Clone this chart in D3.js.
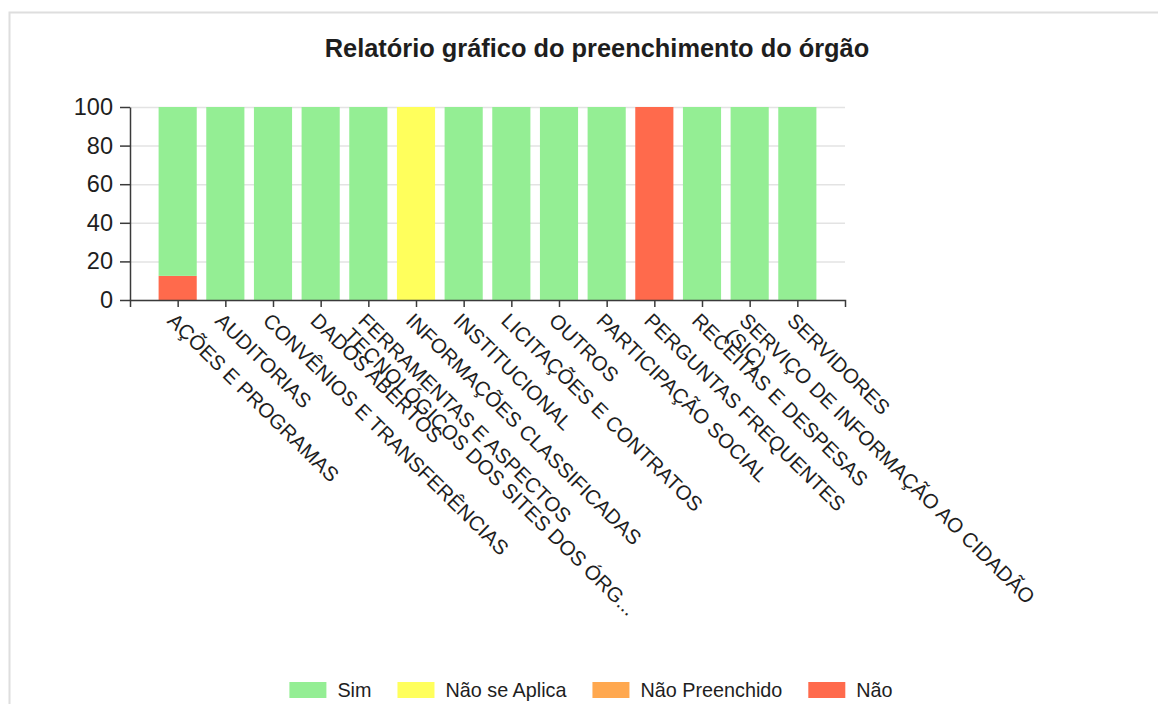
<!DOCTYPE html>
<html>
<head>
<meta charset="utf-8">
<title>Relatório gráfico do preenchimento do órgão</title>
<script src="https://cdn.jsdelivr.net/npm/d3@7"></script>
<style>
    html, body { margin: 0; padding: 0; background: #fff; }
    #chart-container { width: 1158px; height: 704px; }
    text { font-family: "Liberation Sans", Arial, sans-serif; fill: #1e1e1e; }
    .grid line { stroke: #e3e3e3; stroke-width: 1.5; }
    .grid path { display: none; }
    .axis path, .axis line { stroke: #3a3a3a; stroke-width: 1.5; }
</style>
</head>
<body>
<div id="chart-container"></div>
<script>
// categories (x axis), with the wrapped lines shown under each tick
const categories = [
    "AÇÕES E PROGRAMAS",
    "AUDITORIAS",
    "CONVÊNIOS E TRANSFERÊNCIAS",
    "DADOS ABERTOS",
    "FERRAMENTAS E ASPECTOS TECNOLÓGICOS DOS SITES DOS ÓRGÃOS",
    "INFORMAÇÕES CLASSIFICADAS",
    "INSTITUCIONAL",
    "LICITAÇÕES E CONTRATOS",
    "OUTROS",
    "PARTICIPAÇÃO SOCIAL",
    "PERGUNTAS FREQUENTES",
    "RECEITAS E DESPESAS",
    "SERVIÇO DE INFORMAÇÃO AO CIDADÃO (SIC)",
    "SERVIDORES"
];
const tickLabels = [
    ["AÇÕES E PROGRAMAS"],
    ["AUDITORIAS"],
    ["CONVÊNIOS E TRANSFERÊNCIAS"],
    ["DADOS ABERTOS"],
    ["FERRAMENTAS E ASPECTOS", "TECNOLÓGICOS DOS SITES DOS ÓRG..."],
    ["INFORMAÇÕES CLASSIFICADAS"],
    ["INSTITUCIONAL"],
    ["LICITAÇÕES E CONTRATOS"],
    ["OUTROS"],
    ["PARTICIPAÇÃO SOCIAL"],
    ["PERGUNTAS FREQUENTES"],
    ["RECEITAS E DESPESAS"],
    ["SERVIÇO DE INFORMAÇÃO AO CIDADÃO", "(SIC)"],
    ["SERVIDORES"]
];

// series values (%)
const sim           = [87.5, 100, 100, 100, 100,   0, 100, 100, 100, 100,   0, 100, 100, 100];
const naoSeAplica   = [   0,   0,   0,   0,   0, 100,   0,   0,   0,   0,   0,   0,   0,   0];
const naoPreenchido = [   0,   0,   0,   0,   0,   0,   0,   0,   0,   0,   0,   0,   0,   0];
const nao           = [12.5,   0,   0,   0,   0,   0,   0,   0,   0,   0, 100,   0,   0,   0];

const seriesNames  = ["Sim", "Não se Aplica", "Não Preenchido", "Não"];
const seriesColors = ["#94ee94", "#ffff5c", "#ffa84f", "#ff6a4c"];
const yTicks = [0, 20, 40, 60, 80, 100];

function renderChart() {
    d3.select("#chart-container svg").remove();

    const container = d3.select("#chart-container");
    const containerWidth = 1158;
    const containerHeight = 704;

    // plot area
    const margin = { top: 107, right: 313, bottom: 404, left: 130 };
    const width = containerWidth - margin.left - margin.right;
    const height = containerHeight - margin.top - margin.bottom;

    const root = container.append("svg")
        .attr("width", containerWidth)
        .attr("height", containerHeight);

    // light frame around the chart box
    root.append("rect")
        .attr("x", 9.5)
        .attr("y", 12.5)
        .attr("width", 1300)
        .attr("height", 900)
        .attr("fill", "none")
        .attr("stroke", "#dedede")
        .attr("stroke-width", 2);

    // title
    root.append("text")
        .attr("x", 597)
        .attr("y", 57)
        .attr("text-anchor", "middle")
        .style("font-size", "25.4px")
        .style("font-weight", "bold")
        .text("Relatório gráfico do preenchimento do órgão");

    const svg = root.append("g")
        .attr("transform", `translate(${margin.left},${margin.top})`);

    const x = d3.scalePoint()
        .domain(categories)
        .range([0, width])
        .padding(1);

    const y = d3.scaleLinear()
        .domain([0, 100])
        .range([height, 0]);

    // horizontal gridlines
    svg.append("g")
        .attr("class", "grid")
        .call(d3.axisLeft(y)
            .tickValues(yTicks)
            .tickSize(-width)
            .tickFormat("")
        );

    // stacked bars, "Não" at the bottom
    const rows = categories.map((c, i) => ({
        cat: c,
        "Sim": sim[i],
        "Não se Aplica": naoSeAplica[i],
        "Não Preenchido": naoPreenchido[i],
        "Não": nao[i]
    }));
    const stackKeys = ["Não", "Não Preenchido", "Não se Aplica", "Sim"];
    const color = d3.scaleOrdinal().domain(seriesNames).range(seriesColors);
    const stacked = d3.stack().keys(stackKeys)(rows);
    const barWidth = x.step() * 0.8;

    svg.append("g")
        .selectAll("g")
        .data(stacked)
        .join("g")
        .attr("fill", s => color(s.key))
        .selectAll("rect")
        .data(s => s.filter(d => d[1] - d[0] > 0))
        .join("rect")
        .attr("x", d => x(d.data.cat) - barWidth / 2)
        .attr("y", d => y(d[1]))
        .attr("width", barWidth)
        .attr("height", d => y(d[0]) - y(d[1]));

    // y axis
    const yAxis = svg.append("g")
        .attr("class", "axis")
        .call(d3.axisLeft(y)
            .tickValues(yTicks)
            .tickSize(10)
            .tickSizeOuter(0)
            .tickPadding(7)
        );
    yAxis.selectAll("text")
        .style("font-size", "23.5px")
        .attr("fill", "#1e1e1e");

    // x axis
    const xAxis = svg.append("g")
        .attr("class", "axis")
        .attr("transform", `translate(0,${height})`)
        .call(d3.axisBottom(x)
            .tickSize(7)
            .tickSizeOuter(7)
            .tickFormat("")
        );

    // rotated, wrapped tick labels
    xAxis.selectAll(".tick")
        .append("text")
        .attr("transform", "rotate(44.5)")
        .attr("x", 7)
        .attr("y", 24)
        .attr("text-anchor", "start")
        .attr("fill", "#1e1e1e")
        .style("font-size", "20.5px")
        .each(function(d) {
            const lines = tickLabels[categories.indexOf(d)];
            const t = d3.select(this);
            lines.forEach((line, k) => {
                t.append("tspan")
                    .attr("x", 7)
                    .attr("dy", k === 0 ? 0 : "1.0em")
                    .text(line);
            });
        });

    // legend at the bottom, centred
    const legend = root.append("g");
    const items = legend.selectAll("g")
        .data(seriesNames)
        .join("g");
    items.append("rect")
        .attr("width", 37)
        .attr("height", 16)
        .attr("y", -8)
        .attr("fill", d => color(d));
    items.append("text")
        .attr("x", 48)
        .attr("y", 7)
        .style("font-size", "19.8px")
        .attr("fill", "#1e1e1e")
        .text(d => d);

    let offset = 0;
    items.each(function() {
        const w = this.querySelector("text").getComputedTextLength();
        d3.select(this).attr("transform", `translate(${offset},0)`);
        offset += 48 + w + 26;
    });
    const legendWidth = offset - 26;
    legend.attr("transform", `translate(${591 - legendWidth / 2},690)`);
}

renderChart();
</script>
</body>
</html>
